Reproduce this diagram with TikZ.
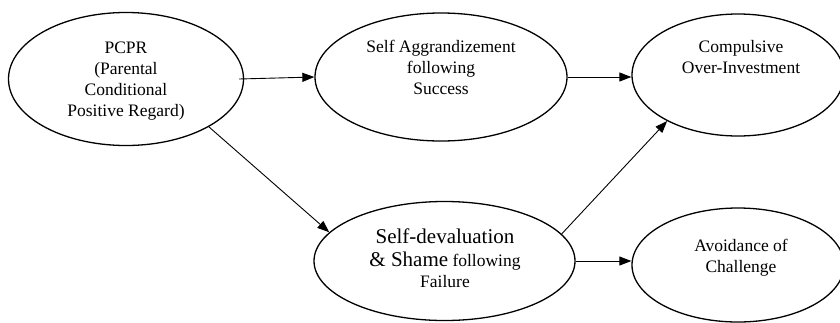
\documentclass[tikz,border=0pt]{standalone}
\usepackage{fontspec}
\setmainfont{Liberation Serif}
\usetikzlibrary{shapes.geometric,arrows.meta}
\tikzset{
  oval/.style={draw, ellipse, line width=1.3pt, inner sep=0pt},
  lbl/.style={align=center, inner sep=0pt, font=\fontsize{17.5}{21}\selectfont},
  conn/.style={line width=0.9pt, -{Triangle[length=12pt,width=9pt]}},
}
\begin{document}
\begin{tikzpicture}[x=1pt,y=-1pt]
\useasboundingbox (0,0) rectangle (840,322);
\clip (0,0) rectangle (840,322);
\node[oval, minimum width=235pt, minimum height=133pt] (pc) at (126,79) {};
\node[oval, minimum width=252pt, minimum height=128pt] (sa) at (441,77) {};
\node[oval, minimum width=212pt, minimum height=122pt] (cp) at (738,75) {};
\node[oval, minimum width=261pt, minimum height=119pt] (sd) at (444.5,261) {};
\node[oval, minimum width=212pt, minimum height=114pt] (av) at (738,265) {};
\node[lbl] (tpc) at (126,81) {PCPR\\(Parental\\Conditional\\Positive Regard)};
\node[lbl] (tsa) at (441,67) {Self Aggrandizement\\following\\Success};
\node[lbl] (tcp) at (741,57) {Compulsive\\Over-Investment};
\node[lbl] (tsd) at (445,258) {{\fontsize{21}{25}\selectfont Self-devaluation}\\[2pt]{\fontsize{21}{25}\selectfont \& Shame} following\\Failure};
\node[lbl] (tav) at (741,258) {Avoidance of\\Challenge};
\draw[conn] ([xshift=-5pt]pc.east) -- (sa.west);
\draw[conn] (pc.-30) -- (sd.166);
\draw[conn] (sa.east) -- (cp.west |- sa.east);
\draw[conn] (sd.13) -- (cp.213);
\draw[conn] (sd.east) -- (av.west |- sd.east);
\end{tikzpicture}
\end{document}
